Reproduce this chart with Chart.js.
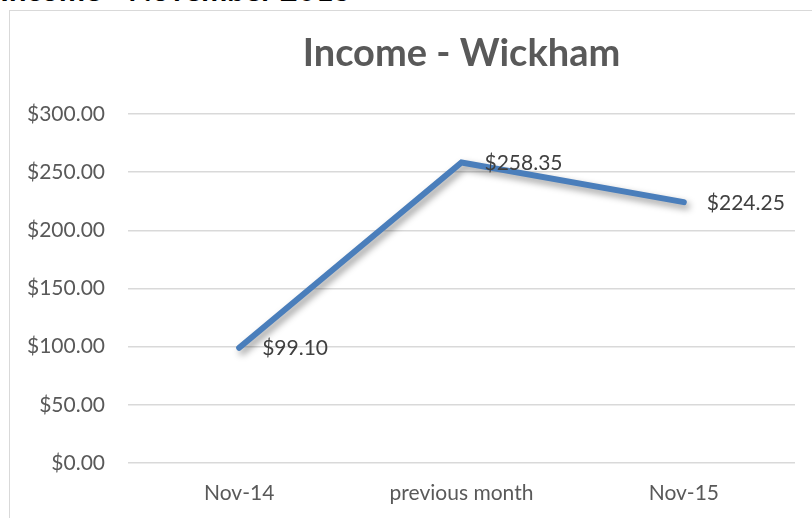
<!DOCTYPE html>
<html>
<head>
<meta charset="utf-8">
<script src="https://cdn.jsdelivr.net/npm/chart.js@4"></script>
<style>
  body { margin: 0; background: #fff; width: 812px; height: 518px; overflow: hidden; position: relative; }
  #heading { position: absolute; left: 0; top: -30px; font: bold 31px Lato, sans-serif; color: #000; white-space: nowrap; }
  #box { position: absolute; left: 9px; top: 10px; width: 830px; height: 540px; border: 1px solid #d9d9d9; }
  #wrap { position: absolute; left: 0; top: 0; width: 802px; height: 507px; }
</style>
</head>
<body>
<div id="heading">Income - November 2015</div>
<div id="box">
  <div id="wrap"><canvas id="myChart" width="802" height="507"></canvas></div>
</div>
<script>
// chart data
const categories = ['Nov-14', 'previous month', 'Nov-15'];
const incomeValues = [99.10, 258.35, 224.25];
const yTicks = [0, 50, 100, 150, 200, 250, 300];
const chartTitle = 'Income - Wickham';

const money = v => '$' + v.toFixed(2);

// shadow under the line, like the Excel one
const shadowPlugin = {
  id: 'lineShadow',
  beforeDatasetDraw(chart) {
    const c = chart.ctx;
    c.save();
    c.shadowColor = 'rgba(0,0,0,0.4)';
    c.shadowBlur = 7;
    c.shadowOffsetX = 3;
    c.shadowOffsetY = 4;
  },
  afterDatasetDraw(chart) {
    chart.ctx.restore();
  }
};

// title centred over the plot area (Excel does that, Chart.js centres on the canvas)
const titlePlugin = {
  id: 'plotTitle',
  afterDraw(chart) {
    const c = chart.ctx;
    const a = chart.chartArea;
    c.save();
    c.font = 'bold 38px Lato, sans-serif';
    c.fillStyle = '#595959';
    c.textAlign = 'center';
    c.textBaseline = 'alphabetic';
    c.fillText(chartTitle, (a.left + a.right) / 2, 55);
    c.restore();
  }
};

// value labels to the right of each point
const labelPlugin = {
  id: 'valueLabels',
  afterDatasetsDraw(chart) {
    const c = chart.ctx;
    const meta = chart.getDatasetMeta(0);
    c.save();
    c.font = '21px Lato, sans-serif';
    c.fillStyle = '#404040';
    c.textAlign = 'left';
    c.textBaseline = 'middle';
    meta.data.forEach((pt, i) => {
      c.fillText(money(incomeValues[i]), pt.x + 23, pt.y + 1);
    });
    c.restore();
  }
};

const ctx = document.getElementById('myChart').getContext('2d');

const chart = new Chart(ctx, {
  type: 'line',
  data: {
    labels: categories,
    datasets: [{
      data: incomeValues,
      borderColor: '#4a7ebb',
      borderWidth: 6,
      pointRadius: 0,
      borderCapStyle: 'round',
      borderJoinStyle: 'miter',
      tension: 0
    }]
  },
  options: {
    responsive: false,
    animation: false,
    layout: { padding: { left: 0, right: 17, top: 103, bottom: 0 } },
    plugins: {
      legend: { display: false },
      tooltip: { enabled: false },
      title: { display: false }
    },
    scales: {
      x: {
        offset: true,
        grid: { display: false, drawTicks: false },
        border: { display: false },
        ticks: { color: '#595959', font: { family: 'Lato', size: 21 }, padding: 18 },
        afterFit(scale) { scale.height = 55; }
      },
      y: {
        min: 0,
        max: 300,
        afterBuildTicks(scale) { scale.ticks = yTicks.map(v => ({ value: v })); },
        grid: { color: '#d9d9d9', lineWidth: 1.5, drawTicks: false },
        border: { display: false },
        ticks: {
          color: '#595959',
          font: { family: 'Lato', size: 21 },
          padding: 23,
          callback: v => money(v)
        },
        afterFit(scale) { scale.width = 118; }
      }
    }
  },
  plugins: [shadowPlugin, labelPlugin, titlePlugin]
});
</script>
</body>
</html>
